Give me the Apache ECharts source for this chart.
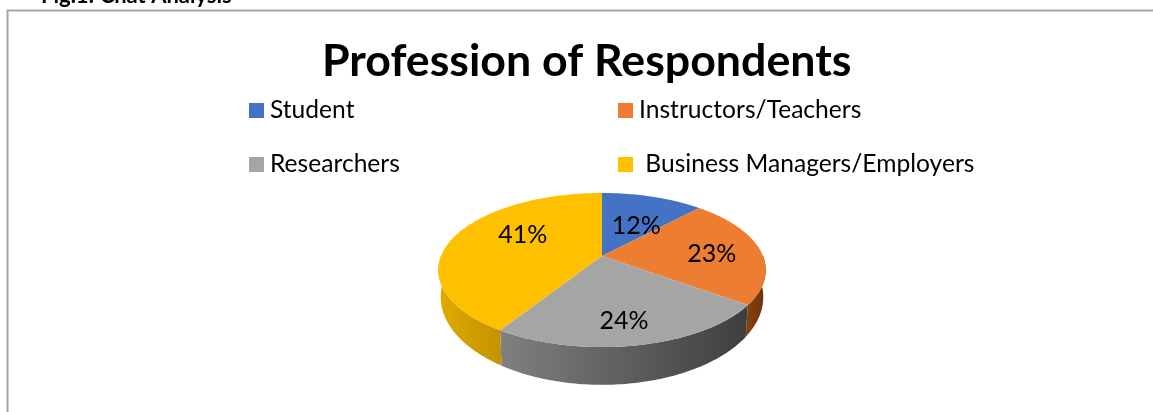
<!DOCTYPE html>
<html>
<head>
<meta charset="utf-8">
<style>
html,body{margin:0;padding:0;background:#fff;}
#chart{width:1153px;height:412px;}
</style>
<script src="https://cdn.jsdelivr.net/npm/echarts@6/dist/echarts.min.js"></script>
</head>
<body>
<div id="chart"></div>
<script>
// data
var categories = ['Student', 'Instructors/Teachers', 'Researchers', 'Business Managers/Employers'];
var shares = [12, 23, 24, 41];
var legendNames = ['Student', 'Instructors/Teachers', 'Researchers', ' Business Managers/Employers'];

var topColors = ['#4472c4', '#ed7d31', '#a5a5a5', '#ffc000'];
var wallColors = [['#2f5597', '#2f5597'], ['#8a4210', '#6b3209'], ['#808080', '#3e3e3e'], ['#e0ab00', '#c39200']];

// 3d look of the pie
var cx = 602, cy = 256, radiusX = 161, radiusY = 74.5, persp = 0.182;
var fontName = 'Lato, "Open Sans", sans-serif';

function rim(deg, f) {
	var a = deg * Math.PI / 180;
	var X = Math.sin(a) * f, Y = Math.cos(a) * f;
	var s = 1 / (1 + persp * Y);
	return [cx + radiusX * X * s, cy - radiusY * Y * s];
}
function lowerRim(deg) {
	var p = rim(deg, 1);
	return [cx + (p[0] - cx) * 0.985, p[1] + 25 + 0.14 * (p[1] - cy)];
}

// label spot per slice: fraction of radius, nudge x, nudge y
var labelSpots = [[0.62, 1, 9], [0.68, 2, 3], [0.72, -3, 4], [0.52, -1, -11]];

var total = shares.reduce(function(a, b){ return a + b; }, 0);

function sliceRender(i) {
	return function(params, api) {
		var before = 0;
		for (var k = 0; k < i; k++) before += shares[k];
		var start = before / total * 360;
		var end = (before + api.value(0)) / total * 360;
		var children = [];

		// side wall, only the part facing us
		var from = Math.max(start, 90), to = Math.min(end, 270);
		if (to > from) {
			var up = [], low = [], d;
			for (d = from; d <= to; d += 1) { up.push(rim(d, 1)); low.push(lowerRim(d)); }
			up.push(rim(to, 1)); low.push(lowerRim(to));
			children.push({
				type: 'polygon',
				z2: 1,
				shape: { points: up.concat(low.reverse()) },
				style: {
					fill: new echarts.graphic.LinearGradient(0, 0, 1, 0, [
						{ offset: 0, color: wallColors[i][0] },
						{ offset: 1, color: wallColors[i][1] }
					])
				}
			});
		}

		// top face
		var pts = [rim(0, 0)];
		for (var t = start; t < end; t += 1) pts.push(rim(t, 1));
		pts.push(rim(end, 1));
		children.push({ type: 'polygon', z2: 5, shape: { points: pts }, style: { fill: topColors[i] } });

		// label
		var spot = rim((start + end) / 2, labelSpots[i][0]);
		children.push({
			type: 'text',
			z2: 10,
			x: spot[0] + labelSpots[i][1],
			y: spot[1] + labelSpots[i][2],
			style: {
				text: api.value(0) + '%',
				fill: '#000',
				font: '25px ' + fontName,
				textAlign: 'center',
				textVerticalAlign: 'middle'
			}
		});
		return { type: 'group', children: children };
	};
}

var series = [];
for (var i = 0; i < categories.length; i++) {
	series.push({
		type: 'custom',
		name: legendNames[i],
		coordinateSystem: 'none',
		itemStyle: { color: topColors[i] },
		renderItem: sliceRender(i),
		silent: true,
		data: [[shares[i]]]
	});
}

function legendAt(i, left, top) {
	return {
		data: [legendNames[i]],
		left: left,
		top: top,
		padding: 0,
		icon: 'rect',
		itemWidth: 15,
		itemHeight: 15,
		itemGap: 0,
		selectedMode: false,
		textStyle: { fontFamily: fontName, fontSize: 24.6, color: '#000', padding: [0, 0, 0, 1] }
	};
}

var myChart = echarts.init(document.getElementById('chart'));
var option = {
	animation: false,
	backgroundColor: '#fff',
	title: {
		text: 'Profession of Respondents',
		left: 322,
		top: 39,
		padding: 0,
		textStyle: { fontFamily: fontName, fontWeight: 'bold', fontSize: 44.7, color: '#000' }
	},
	legend: [legendAt(0, 249, 98), legendAt(1, 618, 98), legendAt(2, 249, 152), legendAt(3, 618, 152)],
	graphic: [
		{
			type: 'text',
			left: 41,
			top: -15,
			style: { text: 'Fig.1: Chat Analysis', fill: '#000', font: 'bold 22px ' + fontName }
		},
		{
			type: 'polyline',
			shape: { points: [[7.5, 412], [7.5, 10.5], [1153, 10.5]] },
			style: { fill: 'none', stroke: '#a6a6a6', lineWidth: 2 },
			silent: true
		}
	],
	series: series
};
myChart.setOption(option);
</script>
</body>
</html>
